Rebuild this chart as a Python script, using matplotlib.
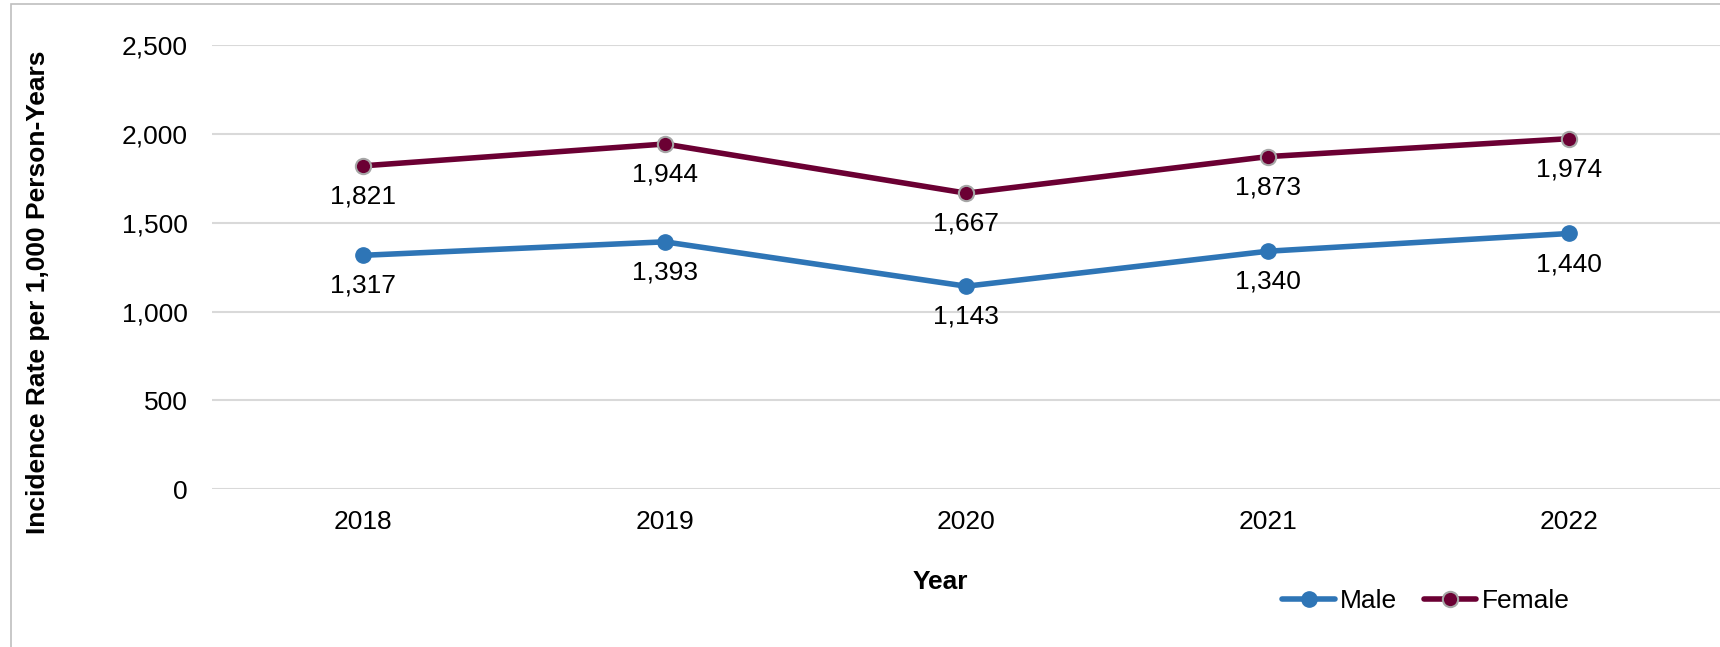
import matplotlib.pyplot as plt
from matplotlib.patches import Rectangle
from matplotlib.ticker import FuncFormatter

years = ["2018", "2019", "2020", "2021", "2022"]
male = [1317, 1393, 1143, 1340, 1440]
female = [1821, 1944, 1667, 1873, 1974]

MALE_COLOR = "#2E75B6"
FEMALE_COLOR = "#6B0033"
GRID_COLOR = "#D9D9D9"
FS = 19

plt.rcParams["font.family"] = ["Liberation Sans", "DejaVu Sans"]

fig = plt.figure(figsize=(17.2, 6.47), dpi=100)
ax = fig.add_axes([0.1235, 0.244, 0.8765, 0.686])

x = range(len(years))
ax.plot(x, male, color=MALE_COLOR, lw=4, marker="o", ms=11,
        mfc=MALE_COLOR, mec=MALE_COLOR, label="Male", solid_capstyle="round")
ax.plot(x, female, color=FEMALE_COLOR, lw=4, marker="o", ms=11,
        mfc=FEMALE_COLOR, mec="#A6A6A6", mew=1.5, label="Female",
        solid_capstyle="round")

# data labels below each point
for series in (male, female):
    for i, v in enumerate(series):
        ax.annotate(f"{v:,}", (i, v), xytext=(0, -22), textcoords="offset points",
                    ha="center", va="center", fontsize=FS, color="#000000")

ax.set_xlim(-0.5, len(years) - 0.5)
ax.set_ylim(0, 2500)
ax.set_yticks(range(0, 2501, 500))
ax.yaxis.set_major_formatter(FuncFormatter(lambda v, _: f"{int(v):,}"))
ax.set_xticks(list(x))
ax.set_xticklabels(years)
ax.tick_params(axis="both", length=0, labelsize=FS, colors="#000000")
ax.tick_params(axis="x", pad=15)
ax.tick_params(axis="y", pad=18)
ax.grid(axis="y", color=GRID_COLOR, lw=1.5)
ax.set_axisbelow(True)
for s in ax.spines.values():
    s.set_visible(False)

fig.text(38 / 1720, 0.549, "Incidence Rate per 1,000 Person-Years", fontsize=FS,
         fontweight="bold", rotation=90, ha="center", va="center")
fig.text(0.5465, 0.100, "Year", ha="center", va="center", fontsize=FS,
         fontweight="bold")

fig.legend(loc="center", bbox_to_anchor=(0.829, 0.071), ncol=2, frameon=False,
           fontsize=FS, handlelength=2.0, handletextpad=0.2, columnspacing=1.0)

# light outer chart border
fig.patches.append(Rectangle((11 / 1720, -0.1), 1.2, 1.1 - 4 / 647,
                             transform=fig.transFigure, fill=False,
                             edgecolor="#BFBFBF", lw=1.2))

fig.savefig("out.png", dpi=100)
